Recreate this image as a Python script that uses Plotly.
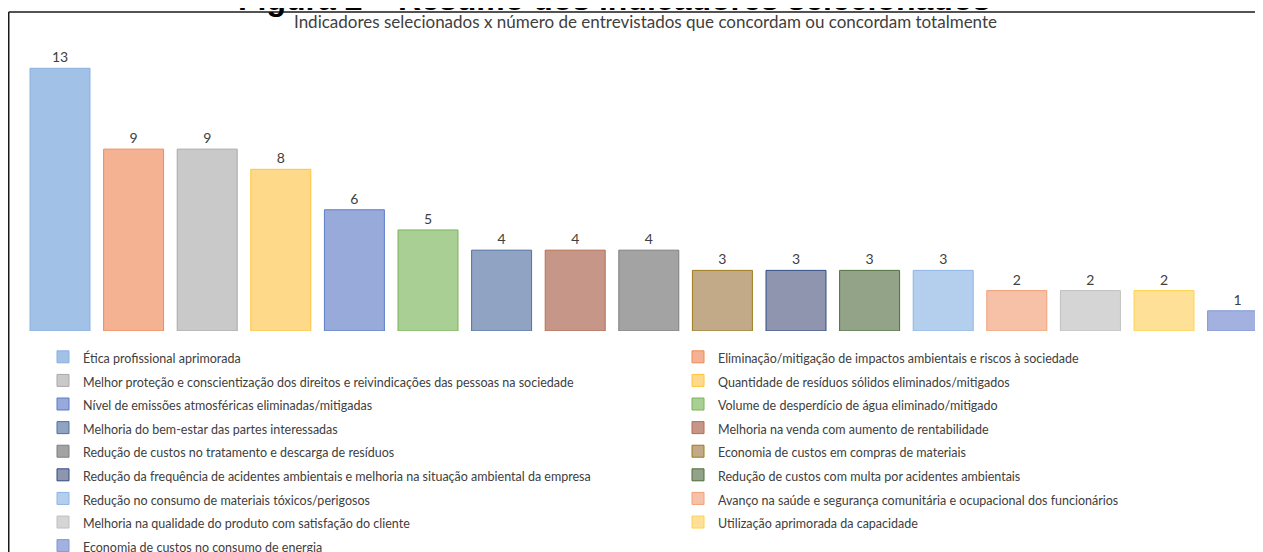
import plotly.graph_objects as go

title_text = "Figura 2 – Resumo dos indicadores selecionados"
subtitle_text = "Indicadores selecionados x número de entrevistados que concordam ou concordam totalmente"

categories = [
    "Ética profissional aprimorada",
    "Eliminação/mitigação de impactos ambientais e riscos à sociedade",
    "Melhor proteção e conscientização dos direitos e reivindicações das pessoas na sociedade",
    "Quantidade de resíduos sólidos eliminados/mitigados",
    "Nível de emissões atmosféricas eliminadas/mitigadas",
    "Volume de desperdício de água eliminado/mitigado",
    "Melhoria do bem-estar das partes interessadas",
    "Melhoria na venda com aumento de rentabilidade",
    "Redução de custos no tratamento e descarga de resíduos",
    "Economia de custos em compras de materiais",
    "Redução da frequência de acidentes ambientais e melhoria na situação ambiental da empresa",
    "Redução de custos com multa por acidentes ambientais",
    "Redução no consumo de materiais tóxicos/perigosos",
    "Avanço na saúde e segurança comunitária e ocupacional dos funcionários",
    "Melhoria na qualidade do produto com satisfação do cliente",
    "Utilização aprimorada da capacidade",
    "Economia de custos no consumo de energia",
]
values = [13, 9, 9, 8, 6, 5, 4, 4, 4, 3, 3, 3, 3, 2, 2, 2, 1]
fill_colors = [
    "#A2C1E6", "#F5B293", "#C9C9C9", "#FED98A", "#98AAD9", "#A9CF95",
    "#90A3C3", "#C69789", "#A3A3A3", "#C2AA88", "#8F95AF", "#92A387",
    "#B4CEED", "#F6C1A6", "#D5D5D5", "#FEE096", "#A3B1E0",
]
line_colors = [
    "#8AB0DE", "#ED8B5A", "#A9A9A9", "#FFC43A", "#5B7DC8", "#7AB35A",
    "#4D72A3", "#B66D4E", "#7F7F7F", "#9C7A1A", "#2E4C84", "#4E6E3A",
    "#8DB4E2", "#F0A07A", "#C0C0C0", "#FFD24E", "#7F97D6",
]

# page has an 8px body margin; figure sized to fill the remaining viewport
W, H = 1255, 544
T, B = 32, 221
PH = H - T - B
STEP = 73.6          # pixels per category
FIRST = 52           # pixel centre of first category

fig = go.Figure()
for i, (cat, v, fc, lc) in enumerate(zip(categories, values, fill_colors, line_colors)):
    fig.add_trace(go.Bar(
        x=[i], y=[v],
        name='<span style="font-size:12.5px">' + cat + '</span>',
        legend="legend" if i % 2 == 0 else "legend2",
        width=0.815,
        marker=dict(color=fc, line=dict(color=lc, width=1)),
        text=[str(v)], textposition="outside",
        textfont=dict(family="Lato", size=14, color="#404040"),
        cliponaxis=False,
        hovertemplate=cat + ": %{y}<extra></extra>",
    ))

legend_common = dict(
    orientation="v", traceorder="normal",
    xanchor="left", yanchor="top",
    y=-(332 - (T + PH)) / PH,
    font=dict(family="Lato", size=15.85, color="#404040"),
    bgcolor="rgba(0,0,0,0)", maxheight=260,
)

x0 = -FIRST / STEP
fig.update_layout(
    width=W, height=H,
    margin=dict(l=0, r=0, t=T, b=B, autoexpand=False),
    barmode="overlay",
    plot_bgcolor="white", paper_bgcolor="white",
    xaxis=dict(range=[x0, x0 + W / STEP], visible=False, fixedrange=True),
    yaxis=dict(range=[0, 14.4], visible=False, fixedrange=True),
    showlegend=True,
    legend=dict(x=35 / W, **legend_common),
    legend2=dict(x=670 / W, **legend_common),
    font=dict(family="Lato", color="#404040"),
)

fig.add_annotation(
    text="<b>" + title_text + "</b>", xref="paper", yref="paper",
    x=606 / W, y=1 + (T - 11) / PH, xanchor="center", yanchor="bottom",
    showarrow=False, font=dict(family="Liberation Sans", size=32, color="#000000"),
)
fig.add_annotation(
    text=subtitle_text, xref="paper", yref="paper",
    x=637 / W, y=1 + (T - 13) / PH, xanchor="center", yanchor="middle",
    showarrow=False, font=dict(family="Lato", size=17, color="#404040"),
)

frame_top = 1 + (T - 4) / PH
frame_left = 0.75 / W
fig.add_shape(type="line", xref="paper", yref="paper", x0=frame_left, x1=1.01,
              y0=frame_top, y1=frame_top, line=dict(color="#1a1a1a", width=1.5))
fig.add_shape(type="line", xref="paper", yref="paper", x0=frame_left, x1=frame_left,
              y0=frame_top, y1=-1.0, line=dict(color="#1a1a1a", width=1.5))

fig.write_html("out.html")
